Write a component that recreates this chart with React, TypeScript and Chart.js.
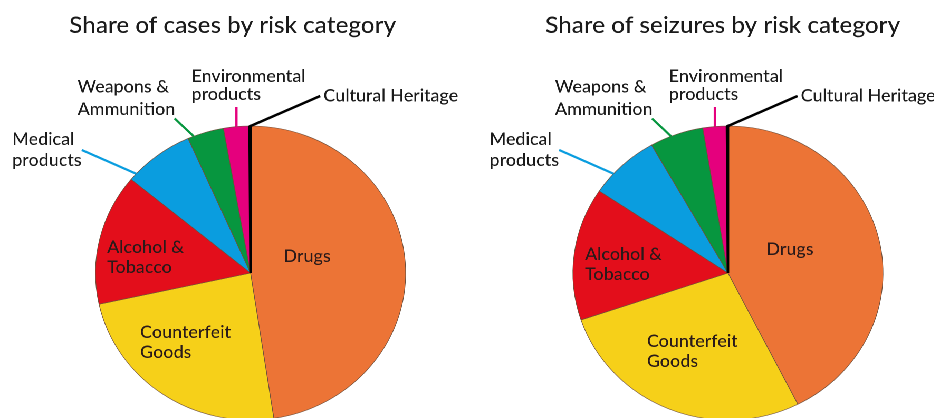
import React, { useEffect, useRef } from "react";
import { Chart, registerables } from "chart.js";

Chart.register(...registerables);

// ---------- data ----------
const categories = [
  "Drugs",
  "Counterfeit Goods",
  "Alcohol & Tobacco",
  "Medical products",
  "Weapons & Ammunition",
  "Environmental products",
  "Cultural Heritage",
];
const casesShare = [47.6, 24.0, 14.4, 7.4, 3.8, 2.7, 0.1];
const seizuresShare = [42.6, 27.3, 14.6, 7.4, 5.6, 2.5, 0.1];
const sliceColors = ["#EC7436", "#F6D019", "#E30E1B", "#0A9DDF", "#07963F", "#E5007D", "#000000"];
const titles = ["Share of cases by risk category", "Share of seizures by risk category"];
const labelLines = [
  ["Drugs"],
  ["Counterfeit", "Goods"],
  ["Alcohol &", "Tobacco"],
  ["Medical", "products"],
  ["Weapons &", "Ammunition"],
  ["Environmental", "products"],
  ["Cultural Heritage"],
];

// ---------- layout / style ----------
const STRETCH_X = 1.055;
const CANVAS_W = 443;
const CANVAS_H = 520;
const PIE_RADIUS = 147;
const FONT_FAMILY = "Lato, 'Open Sans', sans-serif";
const LABEL_FONT = `500 17px ${FONT_FAMILY}`;
const TITLE_FONT = `500 23px ${FONT_FAMILY}`;
const TEXT_COLOR = "#1a1a1a";
const INNER_COLOR = "#2a1a1a";

const paddings = [
  { left: 32, right: 0, top: 26, bottom: 0 },
  { left: 51, right: 0, top: 26, bottom: 0 },
];
const titleLayout = [
  { dx: -17, dy: -240 },
  { dx: -5, dy: -240 },
];
type Outer = { tx: number; ty: number[]; anchorDeg: number | null; end: [number | null, number] };
const outerLayout: (Outer | null)[] = [
  null,
  null,
  null,
  { tx: -226, ty: [-128, -107], anchorDeg: 312.5, end: [-160, -123] },
  { tx: -164, ty: [-180.5, -158], anchorDeg: 338.5, end: [-72, -154.5] },
  { tx: -56, ty: [-191, -173], anchorDeg: null, end: [null, -166] },
  { tx: 69, ty: [-171.5], anchorDeg: 0, end: [66, -177] },
];
type Inner = { x: number; y: number[]; align: CanvasTextAlign };
const innerLayout: Record<number, Inner>[] = [
  {
    0: { x: 53.6, y: [-11], align: "center" },
    1: { x: -104.7, y: [65, 85], align: "left" },
    2: { x: -136, y: [-20, 0], align: "left" },
  },
  {
    0: { x: 58.8, y: [-18], align: "center" },
    1: { x: -76.8, y: [74, 94], align: "left" },
    2: { x: -135.5, y: [-13, 7], align: "left" },
  },
];

function makeLabelPlugin(idx: number) {
  return {
    id: "pieLabels" + idx,
    afterDraw(chart: any) {
      const ctx: CanvasRenderingContext2D = chart.ctx;
      const meta = chart.getDatasetMeta(0);
      const arcs = meta.data as any[];
      if (!arcs.length) return;
      const cx = arcs[0].x;
      const cy = arcs[0].y;
      const R = arcs[0].outerRadius;
      ctx.save();
      // title
      ctx.font = TITLE_FONT;
      ctx.fillStyle = TEXT_COLOR;
      ctx.textAlign = "center";
      ctx.textBaseline = "alphabetic";
      ctx.fillText(titles[idx], cx + titleLayout[idx].dx, cy + titleLayout[idx].dy);

      // outer labels + leader lines
      ctx.font = LABEL_FONT;
      outerLayout.forEach((o, i) => {
        if (!o) return;
        const arc = arcs[i];
        let sx: number, sy: number;
        if (o.anchorDeg === null) {
          const mid = (arc.startAngle + arc.endAngle) / 2;
          sx = cx + R * Math.cos(mid);
          sy = cy + R * Math.sin(mid);
        } else {
          const t = (o.anchorDeg * Math.PI) / 180;
          sx = cx + R * Math.sin(t);
          sy = cy - R * Math.cos(t);
        }
        const ex = o.end[0] === null ? sx : cx + o.end[0];
        const ey = cy + o.end[1];
        ctx.strokeStyle = sliceColors[i];
        ctx.lineWidth = i === 6 ? 2.6 : 2.2;
        ctx.lineCap = "butt";
        ctx.beginPath();
        ctx.moveTo(sx, sy);
        ctx.lineTo(ex, ey);
        ctx.stroke();
        ctx.fillStyle = TEXT_COLOR;
        ctx.textAlign = "left";
        labelLines[i].forEach((line, k) => {
          ctx.fillText(line, cx + o.tx, cy + o.ty[k]);
        });
      });

      // inner labels
      ctx.fillStyle = INNER_COLOR;
      const inner = innerLayout[idx];
      Object.keys(inner).forEach((key) => {
        const i = Number(key);
        const L = inner[i];
        ctx.textAlign = L.align;
        labelLines[i].forEach((line, k) => {
          ctx.fillText(line, cx + L.x, cy + L.y[k]);
        });
      });
      ctx.restore();
    },
  };
}

function PieChart({ values, idx }: { values: number[]; idx: number }) {
  const ref = useRef<HTMLCanvasElement>(null);
  useEffect(() => {
    if (!ref.current) return;
    const chart = new Chart(ref.current, {
      type: "pie",
      data: {
        labels: categories,
        datasets: [
          {
            data: values,
            backgroundColor: sliceColors,
            borderColor: values.map((_, i) => (i === 6 ? "#000000" : "#6e4e3a")),
            borderWidth: values.map((_, i) => (i === 6 ? 2.4 : 0.6)),
            radius: PIE_RADIUS,
          } as any,
        ],
      },
      options: {
        responsive: false,
        animation: false,
        devicePixelRatio: 2,
        events: [],
        layout: { padding: paddings[idx] },
        plugins: {
          legend: { display: false },
          tooltip: { enabled: false },
          title: { display: false },
        },
      },
      plugins: [makeLabelPlugin(idx)],
    });
    return () => chart.destroy();
  }, [values, idx]);
  return <canvas ref={ref} width={CANVAS_W} height={CANVAS_H} style={{ display: "block" }} />;
}

export default function App() {
  return (
    <div
      style={{
        position: "absolute",
        left: 0,
        top: 0,
        width: 934,
        height: 418,
        overflow: "hidden",
        background: "#ffffff",
      }}
    >
      <div
        style={{
          position: "absolute",
          left: 0,
          top: 0,
          width: CANVAS_W * 2,
          height: CANVAS_H,
          display: "flex",
          transform: `scaleX(${STRETCH_X})`,
          transformOrigin: "0 0",
        }}
      >
        <div style={{ width: CANVAS_W, height: CANVAS_H }}>
          <PieChart values={casesShare} idx={0} />
        </div>
        <div style={{ width: CANVAS_W, height: CANVAS_H }}>
          <PieChart values={seizuresShare} idx={1} />
        </div>
      </div>
    </div>
  );
}
